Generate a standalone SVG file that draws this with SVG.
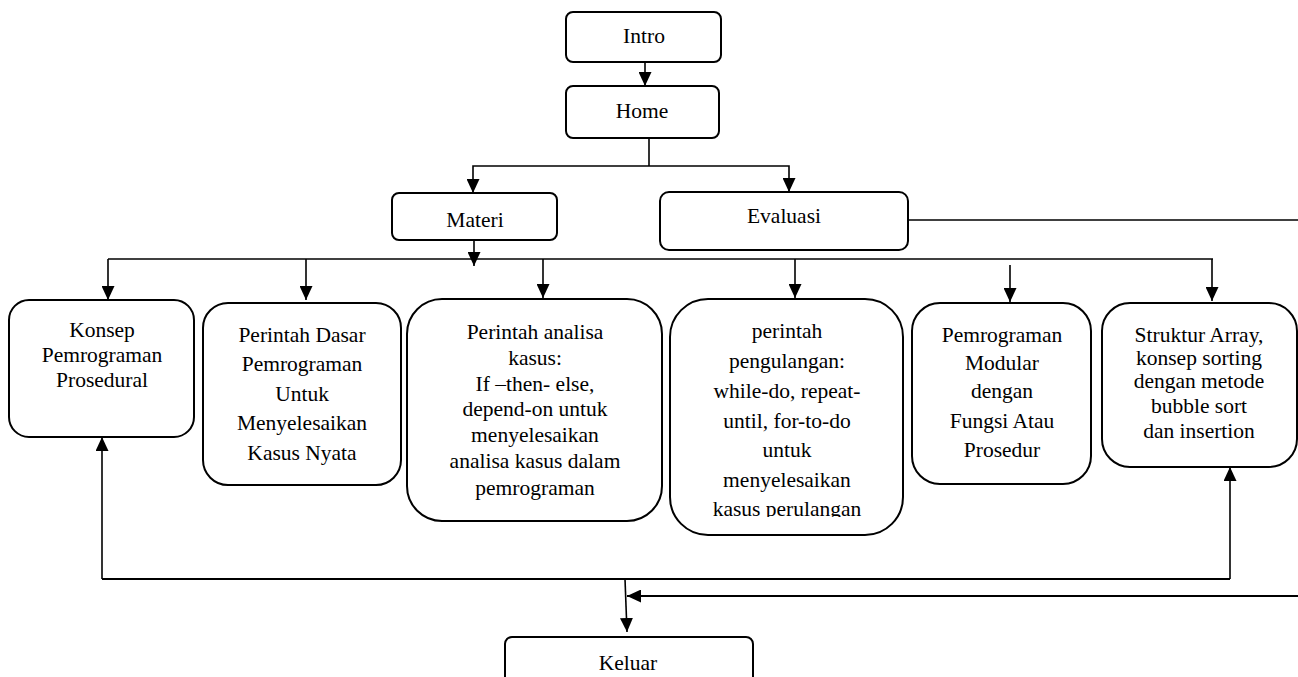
<svg xmlns="http://www.w3.org/2000/svg" width="1298" height="677" viewBox="0 0 1298 677">
<style>
.box{fill:#fff;stroke:#000;stroke-width:2}
text{font-family:'Liberation Serif','Times New Roman','DejaVu Serif',serif;font-size:21.5px;fill:#000;text-anchor:middle}
.c{fill:none;stroke:#000;stroke-width:1.6}
.a{marker-end:url(#ah)}
</style>
<defs>
<marker id="ah" viewBox="0 0 14 13" refX="14" refY="6.5" markerWidth="14" markerHeight="13" markerUnits="userSpaceOnUse" orient="auto">
<path d="M0,0 L14,6.5 L0,13 z" fill="#000"/>
</marker>
<clipPath id="clipP"><rect x="670" y="299" width="233" height="218"/></clipPath>
</defs>
<g id="connectors">
<line class="c a" x1="645" y1="62" x2="645" y2="86"/>
<polyline class="c" points="649,138 649,166"/>
<polyline class="c a" points="649,166 473,166 473,193"/>
<polyline class="c a" points="649,166 789,166 789,192"/>
<line class="c" x1="908" y1="220" x2="1298" y2="220"/>
<line class="c a" x1="474" y1="240" x2="474" y2="266"/>
<line class="c" x1="108" y1="259" x2="1213" y2="259"/>
<line class="c a" x1="108" y1="259" x2="108" y2="300"/>
<line class="c a" x1="306" y1="259" x2="306" y2="300"/>
<line class="c a" x1="543" y1="259" x2="543" y2="298"/>
<line class="c a" x1="795" y1="259" x2="795" y2="298"/>
<line class="c a" x1="1010" y1="265" x2="1010" y2="302"/>
<line class="c a" x1="1212" y1="259" x2="1212" y2="301"/>
<polyline class="c" style="stroke-width:2" points="102,579 1230,579"/>
<line class="c a" x1="102" y1="579" x2="102" y2="437"/>
<line class="c a" x1="1230" y1="579" x2="1230" y2="467"/>
<line class="c a" x1="625" y1="579" x2="627" y2="632"/>
<line class="c a" style="stroke-width:2" x1="1298" y1="596" x2="627" y2="596"/>
</g>
<g id="intro"><rect class="box" x="566" y="12" width="155" height="50" rx="7"/><text x="644" y="43">Intro</text></g>
<g id="home"><rect class="box" x="566" y="86" width="153" height="52" rx="7"/><text x="642" y="118">Home</text></g>
<g id="materi"><rect class="box" x="392" y="193" width="165" height="47" rx="7"/><text x="475" y="227">Materi</text></g>
<g id="evaluasi"><rect class="box" x="660" y="192" width="248" height="58" rx="9"/><text x="784" y="223">Evaluasi</text></g>
<g id="konsep"><rect class="box" x="9" y="300" width="185" height="137" rx="20"/>
<text x="102" y="337">Konsep</text><text x="102" y="362">Pemrograman</text><text x="102" y="387">Prosedural</text></g>
<g id="perintah-dasar"><rect class="box" x="203" y="303" width="198" height="182" rx="25"/>
<text x="302" y="342">Perintah Dasar</text><text x="302" y="371">Pemrograman</text><text x="302" y="401">Untuk</text><text x="302" y="430">Menyelesaikan</text><text x="302" y="460">Kasus Nyata</text></g>
<g id="perintah-analisa"><rect class="box" x="407" y="299" width="255" height="222" rx="35"/>
<text x="535" y="339">Perintah analisa</text><text x="535" y="365">kasus:</text><text x="535" y="391">If –then- else,</text><text x="535" y="416">depend-on untuk</text><text x="535" y="442">menyelesaikan</text><text x="535" y="468">analisa kasus dalam</text><text x="535" y="495">pemrograman</text></g>
<g id="perintah-pengulangan"><rect class="box" x="670" y="299" width="233" height="236" rx="38"/>
<g clip-path="url(#clipP)">
<text x="787" y="338">perintah</text><text x="787" y="368">pengulangan:</text><text x="787" y="398">while-do, repeat-</text><text x="787" y="428">until, for-to-do</text><text x="787" y="457">untuk</text><text x="787" y="487">menyelesaikan</text><text x="787" y="516">kasus perulangan</text></g></g>
<g id="modular"><rect class="box" x="912" y="303" width="179" height="181" rx="28"/>
<text x="1002" y="342">Pemrograman</text><text x="1002" y="370">Modular</text><text x="1002" y="398">dengan</text><text x="1002" y="428">Fungsi Atau</text><text x="1002" y="457">Prosedur</text></g>
<g id="struktur"><rect class="box" x="1102" y="303" width="195" height="164" rx="28"/>
<text x="1199" y="342">Struktur Array,</text><text x="1199" y="365">konsep sorting</text><text x="1199" y="388">dengan metode</text><text x="1199" y="413">bubble sort</text><text x="1199" y="438">dan insertion</text></g>
<g id="keluar"><rect class="box" x="505" y="637" width="248" height="60" rx="7"/><text x="628" y="670">Keluar</text></g>
</svg>
